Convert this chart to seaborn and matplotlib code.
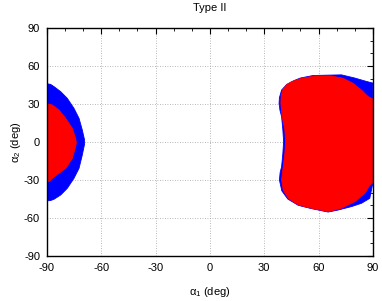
import matplotlib
matplotlib.use("Agg")
import matplotlib.pyplot as plt
import seaborn as sns

# boundary outlines of the allowed regions (deg)
left_blue_a1 = [-90, -88, -86.1, -82.4, -78.8, -75.1, -72.3, -70.5, -69.3, -69.3, -70.5, -72.3, -75.1,
                -78.8, -82.4, -86.1, -88, -90]
left_blue_a2 = [46, 45.5, 43.7, 39.7, 34.5, 26.6, 18.7, 9.5, 2, -2, -10.3, -20.8, -28.7,
                -36.6, -41.8, -45.2, -46.2, -46.5]

left_red_a1 = [-90, -88.5, -87.1, -83.4, -79.7, -76, -74.2, -73.8, -74.2, -76, -79.7, -83.4, -87.1,
               -88.9, -90]
left_red_a2 = [30, 29.8, 29.2, 25.3, 18.7, 10.8, 2.9, -0.5, -3.7, -12.9, -20.8, -24.7, -28.7,
               -31.3, -31.5]

right_blue_a1 = [38.2, 38.4, 39.6, 42.5, 46.5, 50, 57, 66, 72.7, 80, 86.5, 90, 90, 88.3, 83.7, 78.2, 70.9,
                 65.3, 56.1, 48.8, 43, 39.7, 38.4, 38.8, 39.6, 40.3, 40.7, 40.3, 39.6, 38.7]
right_blue_a2 = [30.5, 35, 41, 45.5, 48.5, 50.5, 52.5, 52.8, 53, 50.5, 47.8, 46.5, -32.6, -44.5, -48.4, -51,
                 -53.7, -55.3, -52.6, -50, -45, -38.5, -30, -24, -19.5, -9, 0.2, 9.5, 20, 25]

right_red_a1 = [39.2, 39.4, 40.3, 42.2, 45.1, 50.6, 58, 67.2, 73.6, 79.1, 83.7, 87.4, 90, 90, 88.3,
                85.6, 80, 72.7, 65.3, 56.1, 48.8, 43.3, 40.5, 39.6, 40.5, 41.4, 41.8, 41.4, 39.9]
right_red_a2 = [30.5, 37, 41.5, 45, 47.6, 50.3, 52.1, 52.1, 50.3, 46.3, 41, 35.8, 34, -32, -34,
                -40.5, -47.1, -52.3, -55, -52.3, -49.7, -44.5, -37.9, -30, -19.5, -9, 0.2, 9.5, 20]

ticks = [-90, -60, -30, 0, 30, 60, 90]

sns.set_theme(style="white")
plt.rcParams['font.family'] = ['Liberation Sans', 'DejaVu Sans']
plt.rcParams['mathtext.default'] = 'regular'
plt.rcParams['text.color'] = 'black'
plt.rcParams['axes.labelcolor'] = 'black'
plt.rcParams['axes.unicode_minus'] = False

fig = plt.figure(figsize=(3.82, 3.01), dpi=100)
ax = fig.add_axes([0.123, 0.1495, 0.853, 0.7575])

for xs, ys, c in [(left_blue_a1, left_blue_a2, 'blue'), (right_blue_a1, right_blue_a2, 'blue'),
                  (left_red_a1, left_red_a2, 'red'), (right_red_a1, right_red_a2, 'red')]:
    ax.fill(xs, ys, color=c, lw=0.6, zorder=2)

ax.set_xlim(-90, 90)
ax.set_ylim(-90, 90)
ax.set_xticks(ticks)
ax.set_yticks(ticks)
ax.set_xticks(range(-90, 91, 10), minor=True)
ax.set_yticks(range(-90, 91, 10), minor=True)
ax.tick_params(which='both', direction='in', top=True, right=True, colors='black',
               labelsize=8, pad=5)
ax.tick_params(which='major', length=4, width=0.8)
ax.tick_params(which='minor', length=2, width=0.6)
ax.grid(True, which='major', color='#a0a0a0', linestyle=(0, (1, 2)), linewidth=0.6, zorder=1)
ax.set_axisbelow(True)
for s in ax.spines.values():
    s.set_color('black')
    s.set_linewidth(1.0)

ax.set_title('Type II', fontsize=8, pad=12, color='black')
ax.set_xlabel(r'α$_1$ (deg)', fontsize=8, labelpad=9)
ax.set_ylabel(r'α$_2$ (deg)', fontsize=8, labelpad=1)

fig.savefig('out.png', dpi=100)
